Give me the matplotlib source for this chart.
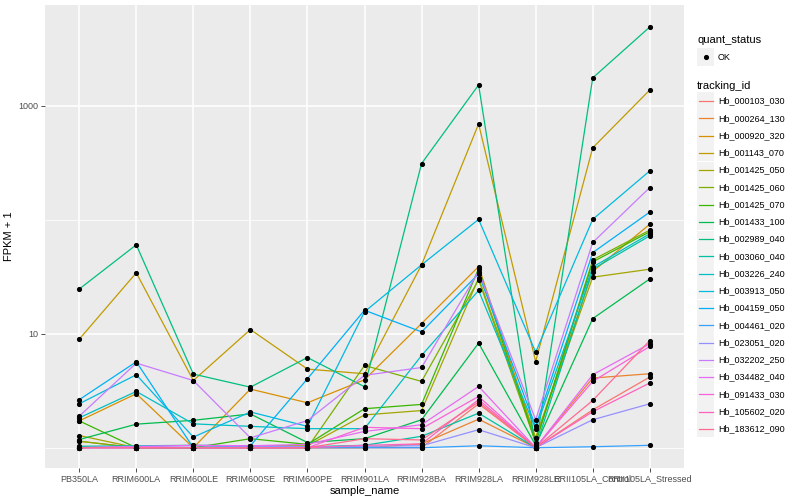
import numpy as np
import matplotlib
matplotlib.use('Agg')
import matplotlib.pyplot as plt
from matplotlib.lines import Line2D
from matplotlib.patches import Rectangle

plt.rcParams['font.family'] = ['Liberation Sans', 'DejaVu Sans']

# samples on the x axis
samples = ['PB350LA', 'RRIM600LA', 'RRIM600LE', 'RRIM600SE', 'RRIM600PE', 'RRIM901LA',
           'RRIM928BA', 'RRIM928LA', 'RRIM928LE', 'RRII105LA_Control', 'RRII105LA_Stressed']

tracking_ids = ['Hb_000103_030', 'Hb_000264_130', 'Hb_000920_320', 'Hb_001143_070',
                'Hb_001425_050', 'Hb_001425_060', 'Hb_001425_070', 'Hb_001433_100',
                'Hb_002989_040', 'Hb_003060_040', 'Hb_003226_240', 'Hb_003913_050',
                'Hb_004159_050', 'Hb_004461_020', 'Hb_023051_020', 'Hb_032202_250',
                'Hb_034482_040', 'Hb_091433_030', 'Hb_105602_020', 'Hb_183612_090']

# FPKM + 1 (one list per gene)
hb_000103_030 = [1.01, 1.00, 1.00, 1.00, 1.00, 1.00, 1.00, 2.43, 1.00, 2.15, 4.17]
hb_000264_130 = [1.14, 1.00, 1.00, 1.00, 1.00, 1.00, 1.08, 1.78, 1.00, 4.09, 4.46]
hb_000920_320 = [1.72, 2.98, 1.00, 3.27, 2.48, 3.95, 12.3, 38.9, 1.22, 35.2, 91.6]
hb_001143_070 = [8.96, 34.3, 3.89, 10.9, 4.90, 4.46, 40.3, 695, 5.71, 429, 1381]
hb_001425_050 = [1.28, 1.00, 1.00, 1.04, 1.04, 1.94, 2.12, 30.8, 1.22, 31.4, 36.9]
hb_001425_060 = [1.14, 1.00, 1.00, 1.00, 1.00, 5.27, 3.82, 29.8, 1.11, 44.6, 81.2]
hb_001425_070 = [1.72, 1.00, 1.00, 1.20, 1.07, 2.20, 2.40, 37.4, 1.11, 42.8, 78.6]
hb_001433_100 = [1.18, 1.61, 1.74, 1.98, 1.11, 1.20, 1.76, 8.28, 1.05, 13.6, 30.3]
hb_002989_040 = [24.7, 60.4, 4.43, 3.40, 6.19, 3.43, 312, 1528, 1.00, 1762, 4930]
hb_003060_040 = [1.03, 1.04, 1.05, 1.04, 1.02, 1.05, 1.26, 2.01, 1.00, 36.9, 72.4]
hb_003226_240 = [1.83, 3.12, 1.62, 1.54, 1.47, 1.47, 6.45, 24.0, 1.46, 38.5, 75.5]
hb_003913_050 = [2.43, 4.37, 1.24, 2.06, 1.54, 15.6, 40.3, 101, 6.90, 101, 269]
hb_004159_050 = [2.64, 5.68, 1.00, 1.04, 4.03, 16.1, 10.4, 33.6, 1.54, 51.6, 117]
hb_004461_020 = [1.00, 1.00, 1.00, 1.00, 1.00, 1.00, 1.00, 1.04, 1.00, 1.02, 1.05]
hb_023051_020 = [1.00, 1.03, 1.04, 1.03, 1.02, 1.03, 1.04, 1.44, 1.00, 1.76, 2.43]
hb_032202_250 = [1.89, 5.53, 3.89, 1.22, 1.73, 4.32, 5.06, 35.2, 1.76, 63.3, 192]
hb_034482_040 = [1.00, 1.02, 1.05, 1.04, 1.07, 1.39, 1.59, 3.45, 1.00, 4.37, 8.17]
hb_091433_030 = [1.00, 1.00, 1.00, 1.00, 1.00, 1.51, 1.47, 2.82, 1.00, 3.82, 7.74]
hb_105602_020 = [1.00, 1.00, 1.00, 1.00, 1.00, 1.05, 1.08, 2.64, 1.00, 2.07, 3.70]
hb_183612_090 = [1.00, 1.00, 1.00, 1.00, 1.00, 1.20, 1.17, 2.52, 1.00, 2.60, 8.73]

series = [hb_000103_030, hb_000264_130, hb_000920_320, hb_001143_070, hb_001425_050,
          hb_001425_060, hb_001425_070, hb_001433_100, hb_002989_040, hb_003060_040,
          hb_003226_240, hb_003913_050, hb_004159_050, hb_004461_020, hb_023051_020,
          hb_032202_250, hb_034482_040, hb_091433_030, hb_105602_020, hb_183612_090]

# ggplot2 default hue palette for 20 levels
colors = ['#F8766D', '#EA8331', '#D89000', '#C09B00', '#A3A500', '#7CAE00', '#39B600',
          '#00BB4E', '#00BF7D', '#00C1A3', '#00BFC4', '#00BAE0', '#00B0F6', '#35A2FF',
          '#9590FF', '#C77CFF', '#E76BF3', '#FA62DB', '#FF62BC', '#FF6C91']

W, H = 800, 500
fig = plt.figure(figsize=(8, 5), dpi=100)
ax = fig.add_axes([45/W, 32/H, 639/W, 463/H])
ax.set_facecolor('#EBEBEB')

x = np.arange(len(samples))
for vals, c in zip(series, colors):
    ax.plot(x, vals, color=c, lw=0.9, zorder=2)
for vals in series:
    ax.plot(x, vals, ls='none', marker='o', ms=2.7, color='black', zorder=3)

ax.set_yscale('log')
ax.set_ylim(10 ** -0.178, 10 ** 3.886)
ax.set_xlim(-0.6, len(samples) - 0.4)
ax.set_yticks([10, 1000])
ax.set_yticklabels(['10', '1000'])
ax.set_yticks([1, 100], minor=True)
ax.yaxis.set_minor_formatter(matplotlib.ticker.NullFormatter())
ax.set_xticks(x)
ax.set_xticklabels(samples)

ax.grid(True, which='major', color='white', lw=1.1, zorder=0)
ax.grid(True, which='minor', axis='y', color='white', lw=0.55, zorder=0)
ax.set_axisbelow(True)
ax.tick_params(axis='both', which='major', length=2.7, width=0.6, color='#333333',
               labelsize=6.5, labelcolor='#4D4D4D', pad=2)
ax.tick_params(axis='y', which='minor', length=0)
for s in ax.spines.values():
    s.set_visible(False)

ax.set_xlabel('sample_name', fontsize=8, labelpad=2)
ax.set_ylabel('FPKM + 1', fontsize=8, labelpad=3)

# legends drawn by hand, ggplot style (grey key squares)
key_bg = '#F2F2F2'
kx, kw = 697, 17
tx = 718
tf = fig.transFigure


def key_box(yc):
    fig.patches.append(Rectangle((kx/W, 1 - (yc + kw/2)/H), kw/W, kw/H, transform=tf,
                                 facecolor=key_bg, edgecolor='none'))


fig.text(kx/W, 1 - 40/H, 'quant_status', fontsize=8, va='center', ha='left')
key_box(57)
fig.lines.append(Line2D([(kx + kw/2)/W], [1 - 57/H], transform=tf, ls='none',
                        marker='o', ms=2.7, color='black'))
fig.text(tx/W, 1 - 57/H, 'OK', fontsize=6.5, va='center', ha='left')

fig.text(kx/W, 1 - 86/H, 'tracking_id', fontsize=8, va='center', ha='left')
pitch = 17.26
for i, (tid, c) in enumerate(zip(tracking_ids, colors)):
    yc = 101 + pitch * i
    key_box(yc)
    fig.lines.append(Line2D([(kx + 1.5)/W, (kx + kw - 1.5)/W], [1 - yc/H, 1 - yc/H],
                            transform=tf, color=c, lw=0.9))
    fig.text(tx/W, 1 - yc/H, tid, fontsize=6.5, va='center', ha='left')

fig.savefig('out.png', dpi=100)
